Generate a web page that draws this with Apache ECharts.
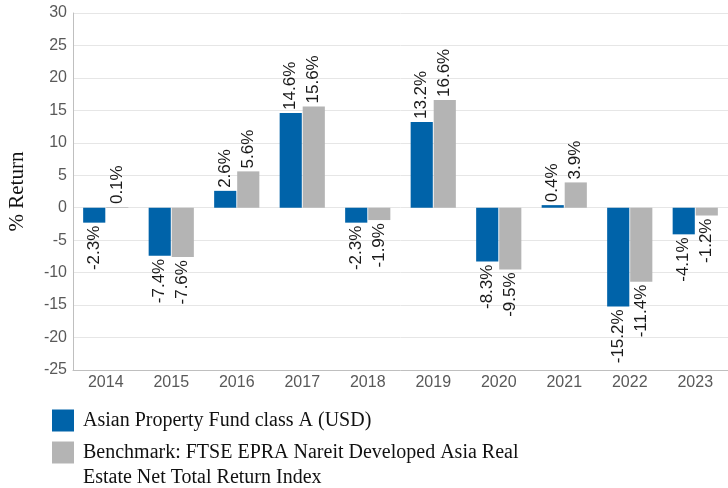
<!DOCTYPE html>
<html>
<head>
<meta charset="utf-8">
<script src="https://cdn.jsdelivr.net/npm/echarts@6/dist/echarts.min.js"></script>
<style>
  html, body { margin: 0; padding: 0; background: #fff; }
  #chart { width: 728px; height: 488px; }
</style>
</head>
<body>
<div id="chart"></div>
<script>
const years = ['2014', '2015', '2016', '2017', '2018', '2019', '2020', '2021', '2022', '2023'];
const fundValues = [-2.3, -7.4, 2.6, 14.6, -2.3, 13.2, -8.3, 0.4, -15.2, -4.1];
const benchValues = [0.1, -7.6, 5.6, 15.6, -1.9, 16.6, -9.5, 3.9, -11.4, -1.2];
const fundName = 'Asian Property Fund class A (USD)';
const benchName = 'Benchmark: FTSE EPRA Nareit Developed Asia Real Estate Net Total Return Index';

// 标签：正值在上，负值在下，竖排
const withLabels = (values) => values.map(v => ({
  value: v,
  label: v >= 0
    ? { position: 'top', align: 'left' }
    : { position: 'bottom', align: 'right' }
}));

const chart = echarts.init(document.getElementById('chart'));

const labelStyle = {
  show: true,
  rotate: 90,
  verticalAlign: 'middle',
  distance: 3,
  fontFamily: 'Liberation Sans',
  fontSize: 17,
  color: '#1a1a1a',
  formatter: p => p.value + '%'
};

const legendText = {
  fontFamily: 'Liberation Serif',
  fontSize: 20,
  color: '#111',
  lineHeight: 25,
  padding: [0, 0, 0, 4]
};

chart.setOption({
  animation: false,
  grid: { left: 73, right: 0, top: 13, bottom: 118, containLabel: false, outerBoundsMode: 'none' },
  // 两个图例分开放，第二项文字换行（前面空一行让图标对齐第一行）
  legend: [
    {
      left: 47,
      top: 403,
      itemWidth: 22,
      itemHeight: 22,
      icon: 'rect',
      textStyle: legendText,
      data: [fundName]
    },
    {
      left: 47,
      top: 410,
      itemWidth: 22,
      itemHeight: 22,
      icon: 'rect',
      textStyle: legendText,
      data: [benchName],
      formatter: () => ' \nBenchmark: FTSE EPRA Nareit Developed Asia Real\nEstate Net Total Return Index'
    }
  ],
  xAxis: {
    type: 'category',
    data: years,
    axisLine: { onZero: false, lineStyle: { color: '#bfbfbf' } },
    axisTick: { show: false },
    axisLabel: { fontFamily: 'Liberation Sans', fontSize: 16, color: '#595959', margin: 5 }
  },
  yAxis: {
    type: 'value',
    min: -25,
    max: 30,
    interval: 5,
    name: '% Return',
    nameLocation: 'middle',
    nameGap: 45,
    nameTextStyle: { fontFamily: 'Liberation Serif', fontSize: 21, color: '#111' },
    axisLine: { show: true, lineStyle: { color: '#bfbfbf' } },
    axisTick: { show: false },
    axisLabel: { fontFamily: 'Liberation Sans', fontSize: 16, color: '#595959', margin: 6 },
    splitLine: { lineStyle: { color: '#e6e6e6' } }
  },
  series: [
    {
      name: fundName,
      type: 'bar',
      data: withLabels(fundValues),
      barGap: '4%',
      barCategoryGap: '31%',
      itemStyle: { color: '#0063a9' },
      label: labelStyle
    },
    {
      name: benchName,
      type: 'bar',
      data: withLabels(benchValues),
      itemStyle: { color: '#b4b4b4' },
      label: labelStyle
    }
  ]
});
</script>
</body>
</html>
